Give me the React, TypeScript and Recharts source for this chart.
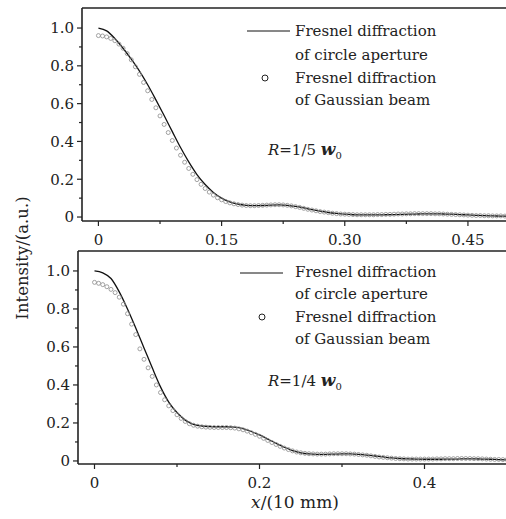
import React from 'react';
import { ComposedChart, Line, Scatter, XAxis, YAxis, ReferenceLine } from 'recharts';

// sample positions (x in units of 10 mm)
const lineX = [
  0, 0.01, 0.02, 0.03, 0.04, 0.05, 0.06, 0.07, 0.08, 0.09,
  0.1, 0.11, 0.12, 0.13, 0.14, 0.15, 0.16, 0.17, 0.18, 0.19,
  0.2, 0.21, 0.22, 0.23, 0.24, 0.25, 0.26, 0.27, 0.28, 0.29,
  0.3, 0.31, 0.32, 0.33, 0.34, 0.35, 0.36, 0.37, 0.38, 0.39,
  0.4, 0.41, 0.42, 0.43, 0.44, 0.45, 0.46, 0.47, 0.48, 0.49, 0.5,
];
const dotX = [
  0, 0.005, 0.01, 0.015, 0.02, 0.025, 0.03, 0.035, 0.04, 0.045,
  0.05, 0.055, 0.06, 0.065, 0.07, 0.075, 0.08, 0.085, 0.09, 0.095,
  0.1, 0.105, 0.11, 0.115, 0.12, 0.125, 0.13, 0.135, 0.14, 0.145,
  0.15, 0.155, 0.16, 0.165, 0.17, 0.175, 0.18, 0.185, 0.19, 0.195,
  0.2, 0.205, 0.21, 0.215, 0.22, 0.225, 0.23, 0.235, 0.24, 0.245,
  0.25, 0.255, 0.26, 0.265, 0.27, 0.275, 0.28, 0.285, 0.29, 0.295,
  0.3, 0.305, 0.31, 0.315, 0.32, 0.325, 0.33, 0.335, 0.34, 0.345,
  0.35, 0.355, 0.36, 0.365, 0.37, 0.375, 0.38, 0.385, 0.39, 0.395,
  0.4, 0.405, 0.41, 0.415, 0.42, 0.425, 0.43, 0.435, 0.44, 0.445,
  0.45, 0.455, 0.46, 0.465, 0.47, 0.475, 0.48, 0.485, 0.49, 0.495, 0.5,
];

// R = 1/5 w0
const circleTop = [
  1.0, 0.985, 0.945, 0.893, 0.835, 0.772, 0.7, 0.62, 0.537, 0.452,
  0.368, 0.292, 0.225, 0.172, 0.13, 0.1, 0.08, 0.068, 0.062, 0.06,
  0.061, 0.063, 0.064, 0.062, 0.056, 0.048, 0.039, 0.031, 0.024, 0.019,
  0.015, 0.012, 0.011, 0.011, 0.011, 0.012, 0.013, 0.014, 0.015, 0.016,
  0.017, 0.017, 0.016, 0.015, 0.013, 0.011, 0.009, 0.007, 0.006, 0.005, 0.004,
];
const gaussTop = [
  0.96, 0.958, 0.953, 0.945, 0.933, 0.915, 0.893, 0.865, 0.832, 0.795,
  0.755, 0.712, 0.668, 0.622, 0.578, 0.535, 0.49, 0.447, 0.405, 0.365,
  0.327, 0.29, 0.257, 0.226, 0.198, 0.173, 0.151, 0.132, 0.116, 0.102,
  0.091, 0.082, 0.075, 0.07, 0.066, 0.063, 0.061, 0.06, 0.06, 0.061,
  0.062, 0.063, 0.064, 0.065, 0.065, 0.064, 0.062, 0.059, 0.055, 0.051,
  0.046, 0.041, 0.037, 0.033, 0.029, 0.026, 0.023, 0.02, 0.018, 0.016,
  0.015, 0.014, 0.013, 0.012, 0.012, 0.012, 0.012, 0.012, 0.013, 0.013,
  0.014, 0.014, 0.015, 0.016, 0.016, 0.017, 0.017, 0.018, 0.018, 0.018,
  0.018, 0.018, 0.017, 0.017, 0.016, 0.015, 0.014, 0.013, 0.012, 0.011,
  0.01, 0.009, 0.008, 0.008, 0.007, 0.007, 0.006, 0.006, 0.006, 0.005, 0.005,
];

// R = 1/4 w0
const circleBottom = [
  1.0, 0.99, 0.96, 0.89, 0.8, 0.7, 0.595, 0.49, 0.39, 0.31,
  0.255, 0.215, 0.193, 0.184, 0.181, 0.18, 0.18, 0.178, 0.17, 0.155,
  0.137, 0.115, 0.093, 0.072, 0.055, 0.043, 0.037, 0.035, 0.035, 0.036,
  0.037, 0.037, 0.035, 0.031, 0.026, 0.021, 0.016, 0.013, 0.011, 0.01,
  0.009, 0.009, 0.009, 0.01, 0.01, 0.011, 0.011, 0.01, 0.009, 0.007, 0.006,
];
const gaussBottom = [
  0.94, 0.935, 0.928, 0.917, 0.903, 0.886, 0.862, 0.825, 0.775, 0.72,
  0.665, 0.59, 0.535, 0.49, 0.445, 0.4, 0.36, 0.322, 0.29, 0.265,
  0.243, 0.224, 0.208, 0.196, 0.188, 0.183, 0.18, 0.178, 0.177, 0.176,
  0.176, 0.176, 0.176, 0.175, 0.173, 0.169, 0.164, 0.157, 0.149, 0.14,
  0.13, 0.119, 0.108, 0.097, 0.087, 0.077, 0.068, 0.06, 0.053, 0.047,
  0.043, 0.04, 0.038, 0.037, 0.036, 0.036, 0.036, 0.037, 0.038, 0.038,
  0.038, 0.038, 0.037, 0.036, 0.034, 0.032, 0.03, 0.027, 0.024, 0.021,
  0.019, 0.017, 0.015, 0.013, 0.012, 0.011, 0.01, 0.01, 0.01, 0.01,
  0.01, 0.01, 0.01, 0.011, 0.011, 0.012, 0.012, 0.012, 0.013, 0.013,
  0.013, 0.013, 0.012, 0.012, 0.011, 0.01, 0.009, 0.008, 0.008, 0.007, 0.007,
];

const yTicks = [0, 0.1, 0.2, 0.3, 0.4, 0.5, 0.6, 0.7, 0.8, 0.9, 1.0];
const yLabels = ['0', '', '0.2', '', '0.4', '', '0.6', '', '0.8', '', '1.0'];
const topXTicks = [0, 0.075, 0.15, 0.225, 0.3, 0.375, 0.45];
const topXLabels = ['0', '', '0.15', '', '0.30', '', '0.45'];
const bottomXTicks = [0, 0.1, 0.2, 0.3, 0.4];
const bottomXLabels = ['0', '', '0.2', '', '0.4'];

const FONT = '"DejaVu Serif", serif';
const INK = '#222';

const pairs = (xs: number[], ys: number[]) => xs.map((x, i) => ({ x, y: ys[i] }));

const makeYTick = (labels: string[]) => (props: any) => {
  const { x, y, index } = props;
  const label = labels[index];
  const len = label ? 5 : 3;
  return (
    <g>
      <line x1={x - len} x2={x} y1={y} y2={y} stroke={INK} strokeWidth={1.2} />
      {label && (
        <text x={x - 8} y={y} dy="0.36em" textAnchor="end" fontFamily={FONT} fontSize={15} fill={INK}>
          {label}
        </text>
      )}
    </g>
  );
};

const makeXTick = (labels: string[]) => (props: any) => {
  const { x, y, index } = props;
  const label = labels[index];
  const len = label ? 5 : 3;
  return (
    <g>
      <line x1={x} x2={x} y1={y} y2={y + len} stroke={INK} strokeWidth={1.2} />
      {label && (
        <text x={x} y={y + 19} dy="0.36em" textAnchor="middle" fontFamily={FONT} fontSize={15} fill={INK}>
          {label}
        </text>
      )}
    </g>
  );
};

const Ring = (props: any) => {
  const { cx, cy } = props;
  if (cx == null || cy == null) return <g />;
  return <circle cx={cx} cy={cy} r={2} fill="none" stroke="#8c8c8c" strokeWidth={0.8} />;
};

function Panel({ line, dots, xTicks, xLabels, yDomain, width, marginLeft }: any) {
  return (
    <ComposedChart
      width={width}
      height={251}
      margin={{ top: 8, right: 0, bottom: 0, left: marginLeft }}
    >
      <XAxis
        dataKey="x"
        type="number"
        domain={[-0.02, 0.5]}
        allowDataOverflow
        ticks={xTicks}
        interval={0}
        tickSize={0}
        tickMargin={0}
        tickLine={false}
        tick={makeXTick(xLabels)}
        height={30}
        axisLine={{ stroke: INK, strokeWidth: 1.6 }}
      />
      <YAxis
        dataKey="y"
        type="number"
        domain={yDomain}
        allowDataOverflow
        ticks={yTicks}
        interval={0}
        tickSize={0}
        tickMargin={0}
        tickLine={false}
        tick={makeYTick(yLabels)}
        width={40}
        axisLine={{ stroke: INK, strokeWidth: 1.6 }}
      />
      <ReferenceLine y={yDomain[1]} stroke={INK} strokeWidth={1.6} />
      <Scatter data={dots} dataKey="y" shape={Ring} isAnimationActive={false} />
      <Line
        data={line}
        dataKey="y"
        type="monotone"
        stroke="#111"
        strokeWidth={1.3}
        dot={false}
        activeDot={false}
        isAnimationActive={false}
      />
    </ComposedChart>
  );
}

function LegendBlock({ x, lineY, rows, ringY, lineX1, lineX2, ringX }: any) {
  return (
    <g fontFamily={FONT} fontSize={15} fill={INK}>
      <line x1={lineX1} x2={lineX2} y1={lineY} y2={lineY} stroke="#111" strokeWidth={1} />
      <circle cx={ringX} cy={ringY} r={3} fill="none" stroke={INK} strokeWidth={1} />
      {rows.map((r: any, i: number) => (
        <text key={i} x={x} y={r.y}>{r.t}</text>
      ))}
    </g>
  );
}

export default function App() {
  const topLine = pairs(lineX, circleTop);
  const topDots = pairs(dotX, gaussTop);
  const botLine = pairs(lineX, circleBottom);
  const botDots = pairs(dotX, gaussBottom);

  return (
    <div style={{ position: 'absolute', left: 0, top: 0, width: 506, height: 519, overflow: 'hidden', background: '#fff' }}>
      <div style={{ position: 'absolute', left: 0, top: 0 }}>
        <Panel line={topLine} dots={topDots} xTicks={topXTicks} xLabels={topXLabels}
          yDomain={[-0.021, 1.106]} width={509} marginLeft={42} />
      </div>
      <div style={{ position: 'absolute', left: 0, top: 243 }}>
        <Panel line={botLine} dots={botDots} xTicks={bottomXTicks} xLabels={bottomXLabels}
          yDomain={[-0.016, 1.105]} width={507} marginLeft={38} />
      </div>
      <svg width={506} height={519} style={{ position: 'absolute', left: 0, top: 0, pointerEvents: 'none' }}>
        <LegendBlock x={295} lineX1={247} lineX2={290} lineY={31} ringX={265} ringY={78}
          rows={[
            { y: 36, t: 'Fresnel diffraction' },
            { y: 60, t: 'of circle aperture' },
            { y: 83, t: 'Fresnel diffraction' },
            { y: 105, t: 'of Gaussian beam' },
          ]} />
        <LegendBlock x={295} lineX1={240} lineX2={283} lineY={273} ringX={262} ringY={317}
          rows={[
            { y: 277, t: 'Fresnel diffraction' },
            { y: 299, t: 'of circle aperture' },
            { y: 322, t: 'Fresnel diffraction' },
            { y: 344, t: 'of Gaussian beam' },
          ]} />
        <text x={268} y={155} fontFamily={FONT} fontSize={15} fill={INK}>
          <tspan fontStyle="italic">R</tspan>=1/5 <tspan fontStyle="italic" fontWeight="bold" fontSize={17}>w</tspan>
          <tspan fontSize={10} dy={4}>0</tspan>
        </text>
        <text x={268} y={386} fontFamily={FONT} fontSize={15} fill={INK}>
          <tspan fontStyle="italic">R</tspan>=1/4 <tspan fontStyle="italic" fontWeight="bold" fontSize={17}>w</tspan>
          <tspan fontSize={10} dy={4}>0</tspan>
        </text>
        <text x={22} y={258} transform="rotate(-90, 22, 258)" textAnchor="middle" dy="0.36em"
          fontFamily={FONT} fontSize={16.5} fill={INK}>
          Intensity/(a.u.)
        </text>
        <text x={295} y={508} textAnchor="middle" fontFamily={FONT} fontSize={17} fill={INK}>
          <tspan fontStyle="italic">x</tspan>/(10 mm)
        </text>
      </svg>
    </div>
  );
}
